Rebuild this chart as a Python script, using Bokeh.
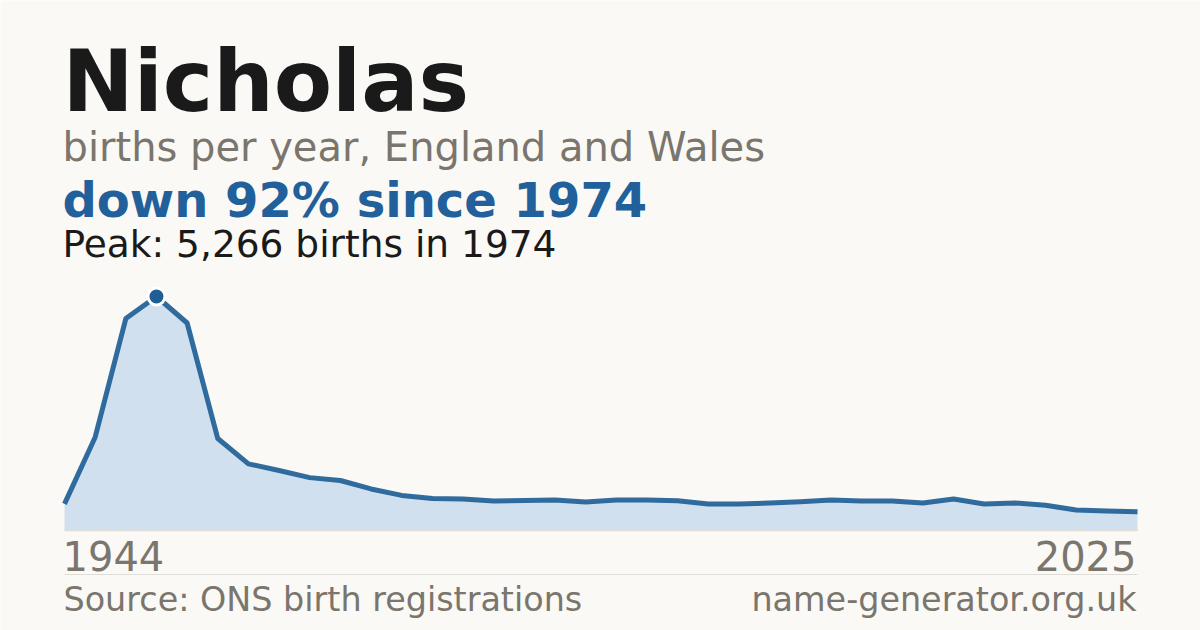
from bokeh.plotting import figure
from bokeh.models import Range1d, Label, ColumnDataSource
from bokeh.embed import file_html
from bokeh.resources import INLINE

# ---- data ----
name = "Nicholas"
years = [1944, 1954, 1964, 1974, 1984, 1994,
         1996, 1997, 1998, 1999, 2000, 2001, 2002, 2003, 2004, 2005,
         2006, 2007, 2008, 2009, 2010, 2011, 2012, 2013, 2014, 2015,
         2016, 2017, 2018, 2019, 2020, 2021, 2022, 2023, 2024, 2025]
births = [600, 2100, 4770, 5266, 4670, 2070,
          1500, 1350, 1190, 1125, 935, 790, 720, 710, 665, 675,
          686, 641, 686, 686, 670, 596, 596, 619, 648, 686,
          664, 664, 619, 709, 596, 619, 567, 461, 439, 420]
peak_idx = births.index(max(births))
peak_year = years[peak_idx]
peak_val = births[peak_idx]
last_val = births[-1]
drop = round((1 - last_val / peak_val) * 100)

# ---- layout ----
W, H = 1200, 630
FONT = "DejaVu Sans"
BG = "#faf9f5"
BLUE = "#1f5f96"
FILL = "#d0e0ef"
GRAY = "#7a756d"
RULE = "#e0ddd6"

left_px, right_px = 64, 1137
step = (right_px - left_px) / (len(years) - 1)
base_px = 100           # distance of zero line from bottom of canvas
k = 234 / peak_val      # px per birth

x = list(range(len(years)))
src = ColumnDataSource(dict(x=x, y=births, zero=[0] * len(x), year=years))

p = figure(width=W, height=H, output_backend="svg", toolbar_location=None,
           x_range=Range1d(-left_px / step, (W - left_px) / step),
           y_range=Range1d(-base_px / k, (H - base_px) / k),
           min_border=0, background_fill_color=BG, border_fill_color=BG,
           outline_line_color=None)
p.axis.visible = False
p.grid.visible = False

p.varea(x="x", y1="zero", y2="y", source=src, fill_color=FILL)
p.segment(x0=x[0], x1=x[-1], y0=0, y1=0, line_color=RULE, line_width=1.5)
p.line(x="x", y="y", source=src, line_color=BLUE, line_width=5,
       line_join="round", line_cap="butt", line_alpha=0.92)
p.scatter([x[peak_idx]], [peak_val], size=17, marker="circle",
          fill_color=BLUE, line_color="white", line_width=3)

# separator rule under the year labels
sep_val = -44 / k
p.segment(x0=x[0], x1=x[-1], y0=sep_val, y1=sep_val, line_color=RULE, line_width=1)


def lab(text, sx, baseline, size, color, bold=False, align="left"):
    # baseline given in pixels from the top of the canvas
    sy = H - (baseline - 0.37 * size)
    p.add_layout(Label(x=sx, y=sy, x_units="screen", y_units="screen", text=text,
                       text_font=FONT, text_font_size=f"{size}px",
                       text_font_style="bold" if bold else "normal",
                       text_color=color, text_align=align,
                       text_baseline="alphabetic"))


lab(name, 62, 112, 85, "#1a1a1a", bold=True)
lab("births per year, England and Wales", 62, 161, 40, GRAY)
lab(f"down {drop}% since {peak_year}", 62, 217, 48, "#21609a", bold=True)
lab(f"Peak: {peak_val:,} births in {peak_year}", 62, 257, 37.5, "#1a1a1a")
lab(str(years[0]), 62, 570, 40, GRAY)
lab(str(years[-1]), 1136, 570, 40, GRAY, align="right")
lab("Source: ONS birth registrations", 63, 611, 33.4, GRAY)
lab("name-generator.org.uk", 1136, 611, 33.4, GRAY, align="right")

open("out.html", "w").write(file_html(p, INLINE))
